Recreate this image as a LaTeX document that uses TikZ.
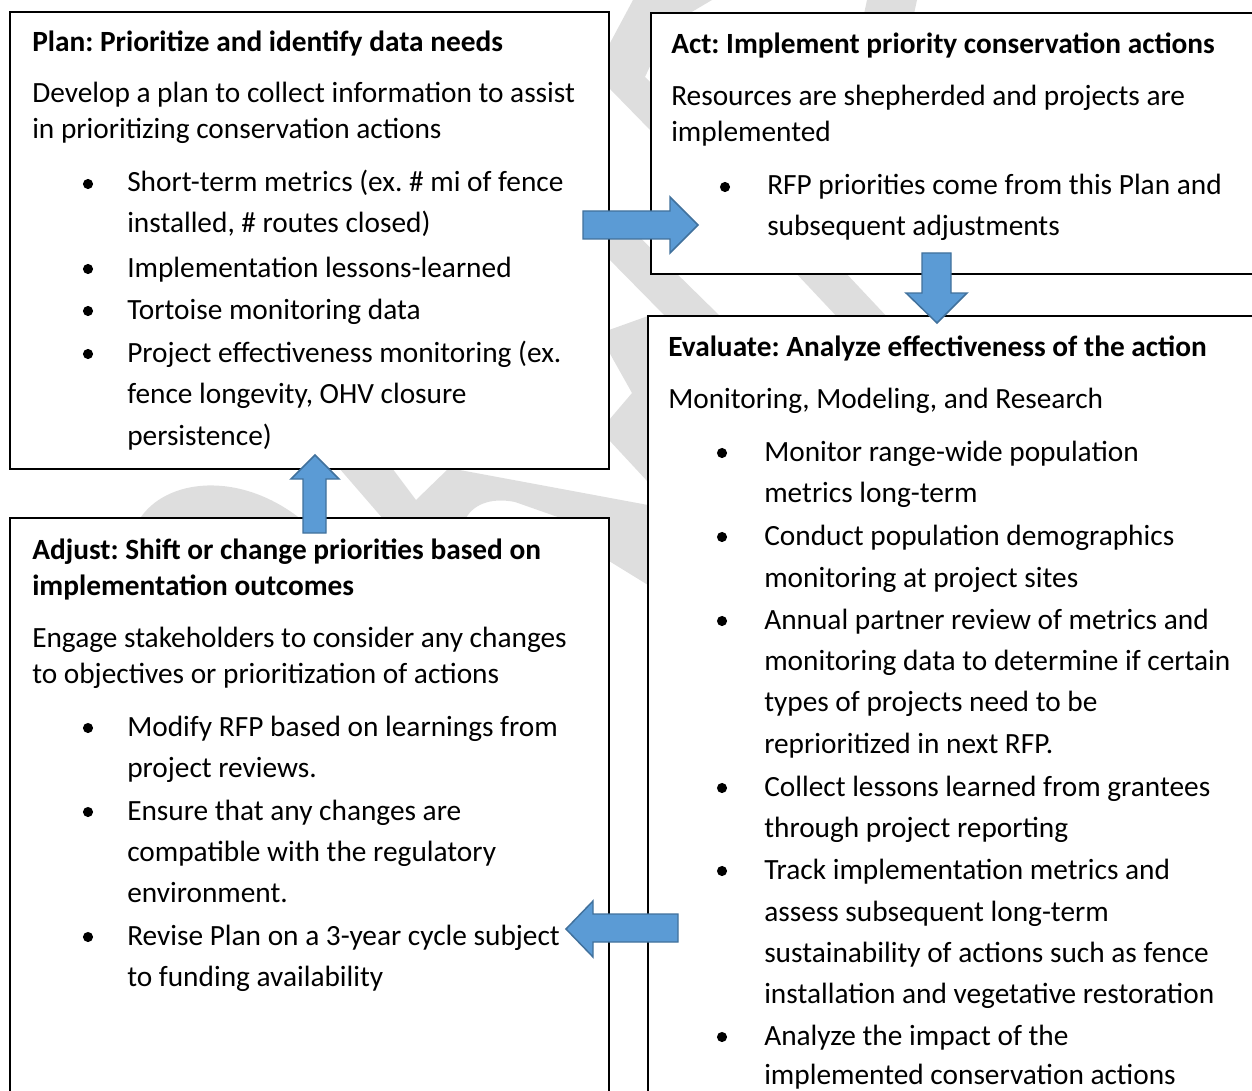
\documentclass[tikz,border=0pt]{standalone}
\usepackage{fontspec}
\setmainfont{Carlito}
\usetikzlibrary{fit}
\definecolor{ringgray}{RGB}{222,222,222}
\definecolor{arrowblue}{RGB}{91,155,213}
\definecolor{arrowedge}{RGB}{65,113,156}
\frenchspacing
\begin{document}
\begin{tikzpicture}[x=0.75pt,y=-0.75pt,
  panel/.style={draw=black, line width=1.1pt, fill=white, inner sep=0pt},
  txt/.style={anchor=base west, inner sep=0pt, font=\fontsize{22}{27}\selectfont},
  head/.style={anchor=base west, inner sep=0pt, font=\fontsize{22}{27}\selectfont\bfseries},
  dot/.style={circle, fill=black, inner sep=0pt, minimum size=7.6pt},
  blockarrow/.style={fill=arrowblue, draw=arrowedge, line width=1.1pt, line join=miter},
  ring/.style={fill=ringgray, draw=none}]
\useasboundingbox (0,0) rectangle (1252,1091);
\clip (0,0) rectangle (1252,1091);

% faint grey cycle bands behind the panels
\fill[ring] (633,0) -- (712,0) -- (690,13) -- (652,13) -- (652,62) -- (645,77) -- (652,84)
  -- (652,132) -- (610,89) -- (610,43) -- cycle;
\fill[ring] (867,0) -- (917,0) -- (914,14) -- (864,14) -- cycle;
\fill[ring] (600,250) -- (600,215) -- (617,215) -- (722,318) -- (667,318) -- cycle;
\fill[ring] (793,270) -- (843,270) -- (890,320) -- (840,320) -- cycle;
\fill[ring] (609,330) -- (648,316) -- (648,482) -- (609,440) -- (609,420) -- (632,393)
  -- (609,352) -- cycle;
\fill[ring] (139,520) .. controls (165,478) and (240,470) .. (302,520) -- cycle;
\fill[ring] (339,468) -- (392,468) -- (416,500) -- (449,468) -- (648,505) -- (648,585)
  -- (609,561) -- (609,535) -- (515,502) .. controls (490,497) and (472,505) .. (465,520)
  -- (384,520) -- cycle;

% panels
\node[panel, fit={(10,12) (609,469)}] (plan) {};
\node[panel, fit={(651,13) (1275,274)}] (act) {};
\node[panel, fit={(648,316) (1275,1110)}] (evaluate) {};
\node[panel, fit={(10,518) (609,1110)}] (adjust) {};

% Plan
\node[head] (planH) at (32,52) {Plan: Prioritize and identify data needs};
\node[txt] (planP1) at (32,103) {Develop a plan to collect information to assist};
\node[txt] (planP2) at (32,139) {in prioritizing conservation actions};
\node[dot] (planD1) at (88,184) {};
\node[txt] (planA1) at (127,192) {Short-term metrics (ex. \# mi of fence};
\node[txt] (planA2) at (127,233) {installed, \# routes closed)};
\node[dot] (planD2) at (88,269) {};
\node[txt] (planB1) at (127,277) {Implementation lessons-learned};
\node[dot] (planD3) at (88,311) {};
\node[txt] (planC1) at (127,319) {Tortoise monitoring data};
\node[dot] (planD4) at (88,354) {};
\node[txt] (planE1) at (127,362) {Project effectiveness monitoring (ex.};
\node[txt] (planE2) at (127,403) {fence longevity, OHV closure};
\node[txt] (planE3) at (127,445) {persistence)};

% Act
\node[head] (actH) at (671,54) {Act: Implement priority conservation actions};
\node[txt] (actP1) at (671,106) {Resources are shepherded and projects are};
\node[txt] (actP2) at (671,142) {implemented};
\node[dot] (actD1) at (725,187) {};
\node[txt] (actA1) at (767,195) {RFP priorities come from this Plan and};
\node[txt] (actA2) at (767,236) {subsequent adjustments};

% Evaluate
\node[head] (evH) at (668,356) {Evaluate: Analyze effectiveness of the action};
\node[txt] (evP1) at (668,408) {Monitoring, Modeling, and Research};
\node[dot] (evD1) at (722,453) {};
\node[txt] (evA1) at (764,461) {Monitor range-wide population};
\node[txt] (evA2) at (764,502) {metrics long-term};
\node[dot] (evD2) at (722,537) {};
\node[txt] (evB1) at (764,545) {Conduct population demographics};
\node[txt] (evB2) at (764,587) {monitoring at project sites};
\node[dot] (evD3) at (722,621) {};
\node[txt] (evC1) at (764,629) {Annual partner review of metrics and};
\node[txt] (evC2) at (764,670) {monitoring data to determine if certain};
\node[txt] (evC3) at (764,711) {types of projects need to be};
\node[txt] (evC4) at (764,753) {reprioritized in next RFP.};
\node[dot] (evD4) at (722,788) {};
\node[txt] (evE1) at (764,796) {Collect lessons learned from grantees};
\node[txt] (evE2) at (764,837) {through project reporting};
\node[dot] (evD5) at (722,871) {};
\node[txt] (evF1) at (764,879) {Track implementation metrics and};
\node[txt] (evF2) at (764,921) {assess subsequent long-term};
\node[txt] (evF3) at (764,962) {sustainability of actions such as fence};
\node[txt] (evF4) at (764,1003) {installation and vegetative restoration};
\node[dot] (evD6) at (722,1037) {};
\node[txt] (evG1) at (764,1045) {Analyze the impact of the};
\node[txt] (evG2) at (764,1084) {implemented conservation actions};

% Adjust
\node[head] (adjH1) at (32,559) {Adjust: Shift or change priorities based on};
\node[head] (adjH2) at (32,595) {implementation outcomes};
\node[txt] (adjP1) at (32,647) {Engage stakeholders to consider any changes};
\node[txt] (adjP2) at (32,683) {to objectives or prioritization of actions};
\node[dot] (adjD1) at (88,728) {};
\node[txt] (adjA1) at (127,736) {Modify RFP based on learnings from};
\node[txt] (adjA2) at (127,777) {project reviews.};
\node[dot] (adjD2) at (88,812) {};
\node[txt] (adjB1) at (127,820) {Ensure that any changes are};
\node[txt] (adjB2) at (127,861) {compatible with the regulatory};
\node[txt] (adjB3) at (127,902) {environment.};
\node[dot] (adjD3) at (88,937) {};
\node[txt] (adjC1) at (127,945) {Revise Plan on a 3-year cycle subject};
\node[txt] (adjC2) at (127,986) {to funding availability};

% block arrows of the cycle: Plan -> Act -> Evaluate -> Adjust -> Plan
\draw[blockarrow] (583,211) -- (670,211) -- (670,197) -- (698,225) -- (670,253) -- (670,239)
  -- (583,239) -- cycle;
\draw[blockarrow] (922,253) -- (951,253) -- (951,293) -- (967,293) -- (937,323) -- (906,293)
  -- (922,293) -- cycle;
\draw[blockarrow] (678,914) -- (593,914) -- (593,901) -- (566,929) -- (593,957) -- (593,942)
  -- (678,942) -- cycle;
\draw[blockarrow] (303,533) -- (303,479) -- (291,479) -- (315,455) -- (339,479) -- (326,479)
  -- (326,533) -- cycle;
\end{tikzpicture}
\end{document}
